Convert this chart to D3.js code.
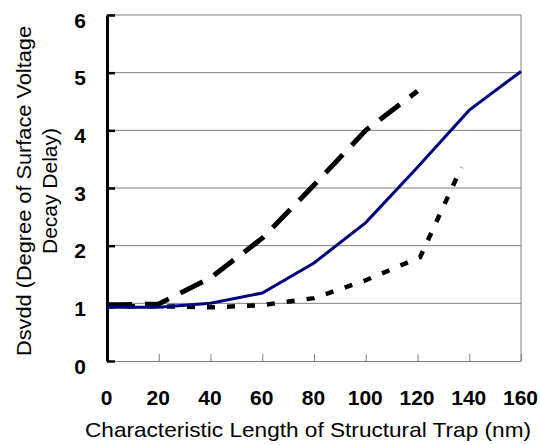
<!DOCTYPE html>
<html>
<head>
<meta charset="utf-8">
<script src="https://cdn.jsdelivr.net/npm/d3@7"></script>
<style>
  body { margin: 0; background: #fff; }
  svg { display: block; }
  .tick-label { font-family: "Liberation Sans", Arial, sans-serif; font-weight: bold; font-size: 21px; fill: #000; }
  .axis-title { font-family: "Liberation Sans", Arial, sans-serif; font-size: 21px; fill: #000; }
</style>
</head>
<body>
<div id="chart"></div>
<script>
'use strict';

// values
const xTicks = [0, 20, 40, 60, 80, 100, 120, 140, 160];
const yTicks = [0, 1, 2, 3, 4, 5, 6];

const solidX = [0, 20, 40, 60, 80, 100, 120, 140, 160];
const solidY = [0.93, 0.93, 1.0, 1.18, 1.7, 2.4, 3.36, 4.35, 5.02];

const longDashX = [0, 20, 40, 60, 80, 100, 120];
const longDashY = [0.97, 0.99, 1.44, 2.13, 3.05, 4.0, 4.68];

const shortDashX = [0, 20, 40, 60, 80, 100, 121, 137];
const shortDashY = [0.95, 0.95, 0.93, 0.97, 1.09, 1.4, 1.8, 3.36];

const xTitle = "Characteristic Length of Structural Trap (nm)";
const yTitle = ["Dsvdd (Degree of Surface Voltage", "Decay Delay)"];

const width = 540;
const height = 445;
const margin = { top: 15, left: 107, right: 19, bottom: 84 };
const plotW = width - margin.left - margin.right;
const plotH = height - margin.top - margin.bottom;

const svg = d3.select("#chart").append("svg")
  .attr("width", width)
  .attr("height", height);

const x = d3.scaleLinear().domain([0, 160]).range([0, plotW]);
const y = d3.scaleLinear().domain([0, 6]).range([plotH, 0]);

const g = svg.append("g")
  .attr("transform", `translate(${margin.left}, ${margin.top})`);

// gridlines
g.selectAll(".grid")
  .data(yTicks.filter(d => d > 0))
  .enter().append("line")
    .attr("x1", 0)
    .attr("x2", plotW)
    .attr("y1", d => y(d))
    .attr("y2", d => y(d))
    .attr("stroke", "#808080")
    .attr("stroke-width", 1);

// right border
g.append("line")
  .attr("x1", plotW).attr("x2", plotW)
  .attr("y1", 0).attr("y2", plotH)
  .attr("stroke", "#808080")
  .attr("stroke-width", 1);

// x axis, ticks point up
const xAxis = g.append("g")
  .attr("transform", `translate(0, ${plotH})`)
  .call(d3.axisBottom(x).tickValues(xTicks).tickSizeInner(-7).tickSizeOuter(0).tickFormat(""));
xAxis.select(".domain").attr("stroke", "#808080");
xAxis.selectAll(".tick line").attr("stroke", "#808080");

xAxis.selectAll(".tick").append("text")
  .attr("class", "tick-label")
  .attr("y", 44)
  .attr("x", -1)
  .attr("text-anchor", "middle")
  .text(d => d);

// y axis, thick black, ticks point in
const yAxis = g.append("g")
  .call(d3.axisLeft(y).tickValues(yTicks).tickSizeInner(-8).tickSizeOuter(0).tickFormat(""));
yAxis.select(".domain").attr("stroke", "#000").attr("stroke-width", 3);
yAxis.selectAll(".tick line").attr("stroke", "#000").attr("stroke-width", 2.5);

yAxis.selectAll(".tick").append("text")
  .attr("class", "tick-label")
  .attr("x", -21)
  .attr("y", 12)
  .attr("text-anchor", "end")
  .text(d => d);

// series
const line = d3.line()
  .x(d => x(d[0]))
  .y(d => y(d[1]));

g.append("path")
  .datum(d3.zip(longDashX, longDashY))
  .attr("d", line)
  .attr("fill", "none")
  .attr("stroke", "#000")
  .attr("stroke-width", 5)
  .attr("stroke-dasharray", "25,13");

g.append("path")
  .datum(d3.zip(shortDashX, shortDashY))
  .attr("d", line)
  .attr("fill", "none")
  .attr("stroke", "#000")
  .attr("stroke-width", 4.5)
  .attr("stroke-dasharray", "8,12");

g.append("path")
  .datum(d3.zip(solidX, solidY))
  .attr("d", line)
  .attr("fill", "none")
  .attr("stroke", "#000080")
  .attr("stroke-width", 3);

// titles
svg.append("text")
  .attr("class", "axis-title")
  .attr("x", 308)
  .attr("y", 437)
  .attr("text-anchor", "middle")
  .attr("textLength", 446)
  .attr("lengthAdjust", "spacingAndGlyphs")
  .text(xTitle);

const yt = svg.append("text")
  .attr("class", "axis-title")
  .attr("transform", "translate(0, 191) rotate(-90)")
  .attr("text-anchor", "middle");
yt.append("tspan").attr("x", 0).attr("y", 31)
  .attr("textLength", 330).attr("lengthAdjust", "spacingAndGlyphs")
  .text(yTitle[0]);
yt.append("tspan").attr("x", 0).attr("y", 57)
  .text(yTitle[1]);
</script>
</body>
</html>
